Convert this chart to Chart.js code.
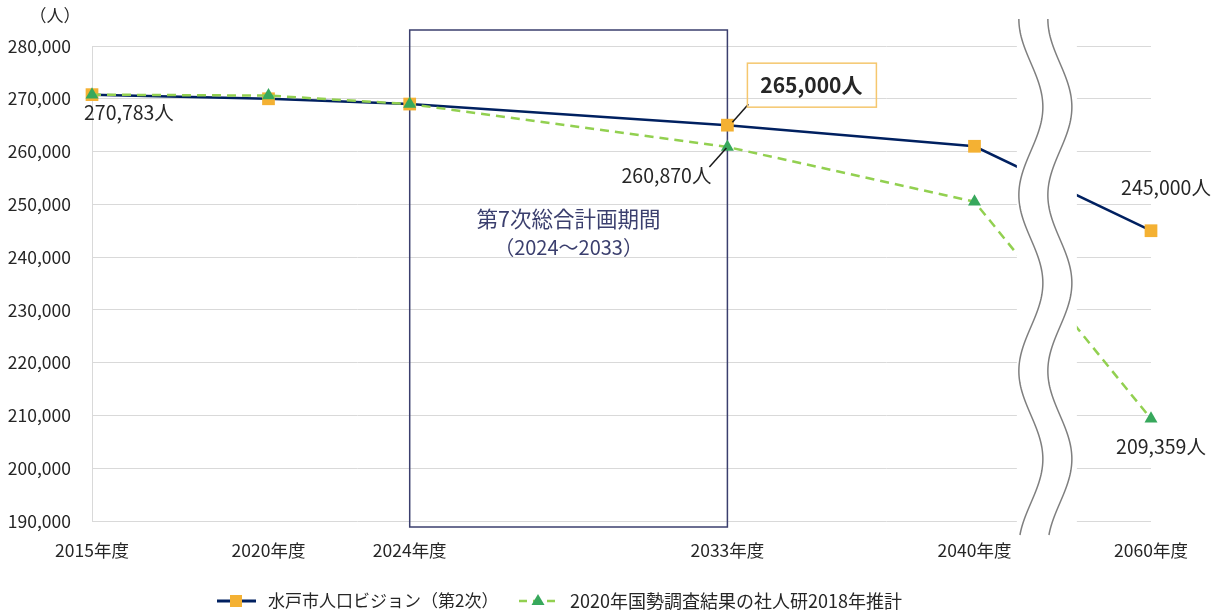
<!DOCTYPE html>
<html lang="ja">
<head>
<meta charset="utf-8">
<script src="https://cdn.jsdelivr.net/npm/chart.js@4.4.1/dist/chart.umd.min.js"></script>
<style>
  html, body { margin: 0; padding: 0; background: #fff; }
  #wrap { width: 1220px; height: 613px; position: relative; }
</style>
</head>
<body>
<div id="wrap"><canvas id="myChart"></canvas></div>
<script>
// data
var years = [2015, 2020, 2024, 2033, 2040, 2060];
var xTickLabels = ['2015年度', '2020年度', '2024年度', '2033年度', '2040年度', '2060年度'];
var visionValues = [270783, 270000, 269000, 265000, 261000, 245000];   // 水戸市人口ビジョン（第2次）
var ipssValues = [270783, 270600, 269000, 260870, 250500, 209359];     // 社人研2018年推計
var visionName = '水戸市人口ビジョン（第2次）';
var ipssName = '2020年国勢調査結果の社人研2018年推計';
var periodTitle = '第7次総合計画期間';
var periodSub = '（2024～2033）';

var FONT = '"Noto Sans CJK JP", "Noto Sans", sans-serif';
var NAVY = '#002060';
var ORANGE = '#F4B133';
var LIGHTGREEN = '#92D050';
var GREEN = '#37A85C';
var TEXT = '#262626';

// the axis is broken between 2040 and 2060, so 2060 sits at 2045 on the scale
function axisPos(year) { return year === 2060 ? 2045 : year; }
var BREAK_FROM = 2041.2, BREAK_TO = 2042.9;

function makePoints(values) {
    return years.map(function (yr, i) { return { x: axisPos(yr), y: values[i] }; });
}

function fmt(v) { return v.toLocaleString('en-US') + '人'; }

var overlay = {
    id: 'overlay',
    beforeDatasetsDraw: function (chart) {
        var ctx = chart.ctx, x = chart.scales.x;
        var l = x.getPixelForValue(2024), r = x.getPixelForValue(2033);
        ctx.save();
        ctx.strokeStyle = '#3B3F6E';
        ctx.lineWidth = 1.5;
        ctx.strokeRect(l, 30, r - l, 497);
        ctx.fillStyle = '#3B3F6E';
        ctx.textAlign = 'center';
        ctx.textBaseline = 'middle';
        ctx.font = '21.5px ' + FONT;
        ctx.fillText(periodTitle, (l + r) / 2, 219);
        ctx.font = '20px ' + FONT;
        ctx.fillText(periodSub, (l + r) / 2, 247);
        ctx.restore();
    },
    afterDatasetsDraw: function (chart) {
        var ctx = chart.ctx, x = chart.scales.x, y = chart.scales.y, area = chart.chartArea;
        ctx.save();

        // axis break: white band and two wavy lines
        var b0 = x.getPixelForValue(BREAK_FROM), b1 = x.getPixelForValue(BREAK_TO);
        ctx.fillStyle = '#fff';
        ctx.fillRect(b0, area.top - 3, b1 - b0, area.bottom - area.top + 6);
        ctx.strokeStyle = '#7f7f7f';
        ctx.lineWidth = 1.5;
        [b0 + 2, b0 + 31].forEach(function (x0) {
            ctx.beginPath();
            for (var py = 19; py <= 535; py += 2) {
                var px = x0 + 12 - 12 * Math.cos(Math.PI * (py - 19) / 88);
                if (py === 19) ctx.moveTo(px, py); else ctx.lineTo(px, py);
            }
            ctx.stroke();
        });

        // data labels
        ctx.fillStyle = TEXT;
        ctx.textBaseline = 'middle';
        ctx.font = '19.5px ' + FONT;
        function pt(i, values) {
            return { x: x.getPixelForValue(axisPos(years[i])), y: y.getPixelForValue(values[i]) };
        }
        var p = pt(0, visionValues);
        ctx.textAlign = 'left';
        ctx.fillText(fmt(visionValues[0]), p.x - 8, p.y + 18);

        p = pt(3, ipssValues);
        ctx.textAlign = 'right';
        ctx.fillText(fmt(ipssValues[3]), p.x - 16, p.y + 29);
        ctx.strokeStyle = '#1a1a1a';
        ctx.lineWidth = 1.5;
        ctx.beginPath(); ctx.moveTo(p.x - 1, p.y + 1); ctx.lineTo(p.x - 18, p.y + 20); ctx.stroke();

        p = pt(3, visionValues);
        ctx.beginPath(); ctx.moveTo(p.x + 5, p.y - 3); ctx.lineTo(p.x + 21, p.y - 21); ctx.stroke();
        ctx.strokeStyle = '#F5C76E';
        ctx.lineWidth = 1.5;
        ctx.strokeRect(p.x + 20, p.y - 62, 129, 44);
        ctx.textAlign = 'center';
        ctx.font = 'bold 21px ' + FONT;
        ctx.fillText(fmt(visionValues[3]), p.x + 84, p.y - 40);

        ctx.font = '19.5px ' + FONT;
        p = pt(5, visionValues);
        ctx.fillText(fmt(visionValues[5]), p.x + 15, p.y - 43);
        p = pt(5, ipssValues);
        ctx.fillText(fmt(ipssValues[5]), p.x + 10, p.y + 28);

        // unit
        ctx.font = '17px ' + FONT;
        ctx.fillText('（人）', 55, 16);

        // legend
        var ly = 601;
        ctx.strokeStyle = NAVY;
        ctx.lineWidth = 3;
        ctx.beginPath(); ctx.moveTo(217, ly); ctx.lineTo(256, ly); ctx.stroke();
        ctx.fillStyle = ORANGE;
        ctx.fillRect(230, ly - 6, 12, 12);
        ctx.strokeStyle = LIGHTGREEN;
        ctx.lineWidth = 2.5;
        ctx.setLineDash([8, 6]);
        ctx.beginPath(); ctx.moveTo(519, ly); ctx.lineTo(558, ly); ctx.stroke();
        ctx.setLineDash([]);
        ctx.fillStyle = GREEN;
        ctx.beginPath(); ctx.moveTo(538, ly - 7); ctx.lineTo(544.5, ly + 4); ctx.lineTo(531.5, ly + 4); ctx.closePath(); ctx.fill();
        ctx.fillStyle = TEXT;
        ctx.textAlign = 'left';
        ctx.font = '17px ' + FONT;
        ctx.fillText(visionName, 268, ly);
        ctx.font = '18px ' + FONT;
        ctx.fillText(ipssName, 570, ly);

        ctx.restore();
    }
};

var ctx = document.getElementById('myChart').getContext('2d');

var config = {
    type: 'line',
    data: {
        datasets: [{
            label: ipssName,
            data: makePoints(ipssValues),
            borderColor: LIGHTGREEN,
            borderWidth: 2.5,
            borderDash: [9, 6],
            pointStyle: 'triangle',
            pointRadius: 7.5,
            pointBackgroundColor: GREEN,
            pointBorderWidth: 0,
            tension: 0,
            clip: false,
            order: 0
        }, {
            label: visionName,
            data: makePoints(visionValues),
            borderColor: NAVY,
            borderWidth: 2.5,
            pointStyle: 'rect',
            pointRadius: 9,
            pointBackgroundColor: ORANGE,
            pointBorderWidth: 0,
            tension: 0,
            clip: false,
            order: 1
        }]
    },
    options: {
        responsive: true,
        maintainAspectRatio: false,
        animation: false,
        events: [],
        layout: { padding: { top: 46, right: 69, bottom: 0, left: 0 } },
        plugins: { legend: { display: false }, tooltip: { enabled: false } },
        scales: {
            x: {
                type: 'linear',
                min: 2015,
                max: 2045,
                afterBuildTicks: function (axis) {
                    axis.ticks = years.map(function (yr) { return { value: axisPos(yr) }; });
                },
                afterFit: function (axis) { axis.height = 92; },
                grid: { display: false, drawTicks: false },
                border: { display: false },
                ticks: {
                    autoSkip: false,
                    maxRotation: 0,
                    padding: 19,
                    color: TEXT,
                    font: { family: FONT, size: 17.5 },
                    callback: function (value) {
                        var i = years.map(axisPos).indexOf(value);
                        return i >= 0 ? xTickLabels[i] : '';
                    }
                }
            },
            y: {
                min: 190000,
                max: 280000,
                afterFit: function (axis) { axis.width = 92; },
                grid: { color: '#d9d9d9', lineWidth: 1, drawTicks: false },
                border: { display: true, color: '#d9d9d9' },
                ticks: {
                    stepSize: 10000,
                    padding: 21,
                    color: TEXT,
                    font: { family: FONT, size: 17.5 },
                    callback: function (v) { return v.toLocaleString('en-US'); }
                }
            }
        }
    },
    plugins: [overlay]
};

var myChart = new Chart(ctx, config);
</script>
</body>
</html>
